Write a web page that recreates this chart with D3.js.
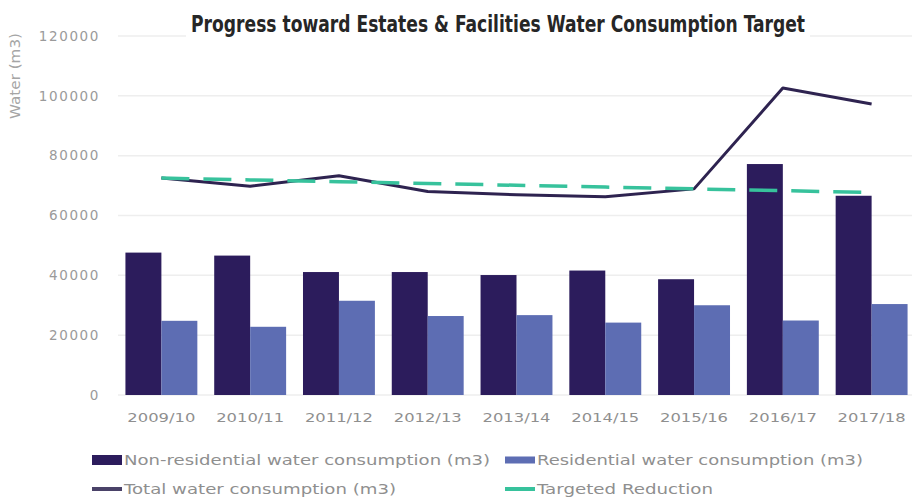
<!DOCTYPE html>
<html>
<head>
<meta charset="utf-8">
<script src="https://cdn.jsdelivr.net/npm/d3@7"></script>
<style>
  body { margin: 0; background: #fff; }
  svg { display: block; }
</style>
</head>
<body>
<svg width="912" height="499"></svg>
<script>
const years = ["2009/10", "2010/11", "2011/12", "2012/13", "2013/14", "2014/15", "2015/16", "2016/17", "2017/18"]
const nonResidential = [47600, 46600, 41100, 41100, 40100, 41600, 38700, 77200, 66600]
const residential = [24800, 22800, 31500, 26400, 26700, 24200, 30000, 24900, 30400]
const total = [72500, 69800, 73300, 68000, 66900, 66300, 68900, 102600, 97300]
const target = [72500, 71900, 71300, 70700, 70100, 69500, 68900, 68300, 67700]
const yTicks = [0, 20000, 40000, 60000, 80000, 100000, 120000]

const svg = d3.select("svg")
const font = "'DejaVu Sans', sans-serif"

const x = d3.scaleBand()
  .domain(years)
  .range([117, 916])
  .paddingInner(0.19)
  .paddingOuter(0.095)

const x1 = d3.scaleBand()
  .domain(["non", "res"])
  .range([0, x.bandwidth()])

const y = d3.scaleLinear()
  .domain([0, 120000])
  .range([395, 36])

// gridlines
svg.append("g").selectAll("line").data(yTicks).join("line")
  .attr("x1", 118).attr("x2", 912)
  .attr("y1", d => y(d)).attr("y2", d => y(d))
  .attr("stroke", "#eeeeee").attr("stroke-width", 1.5)

// y tick labels
svg.append("g").selectAll("text").data(yTicks).join("text")
  .attr("x", 100).attr("y", d => y(d)).attr("dy", "0.35em")
  .attr("text-anchor", "end")
  .attr("font-family", font).attr("font-size", 13.5).attr("letter-spacing", 1.6)
  .attr("fill", "#9a9a9a")
  .text(d => d)

svg.append("text")
  .attr("transform", "translate(20,76) rotate(-90)")
  .attr("text-anchor", "middle")
  .attr("font-family", font).attr("font-size", 13.5)
  .attr("textLength", 86).attr("lengthAdjust", "spacingAndGlyphs")
  .attr("fill", "#a5a5a5")
  .text("Water (m3)")

// bars
const groups = svg.append("g").selectAll("g").data(years).join("g")
  .attr("transform", d => `translate(${x(d)},0)`)

groups.append("rect")
  .attr("x", x1("non")).attr("width", x1.bandwidth())
  .attr("y", (d, i) => y(nonResidential[i]))
  .attr("height", (d, i) => y(0) - y(nonResidential[i]))
  .attr("fill", "#2c1c5c")

groups.append("rect")
  .attr("x", x1("res")).attr("width", x1.bandwidth())
  .attr("y", (d, i) => y(residential[i]))
  .attr("height", (d, i) => y(0) - y(residential[i]))
  .attr("fill", "#5d6db3")

// x tick labels
svg.append("g").selectAll("text").data(years).join("text")
  .attr("x", d => x(d) + x.bandwidth() / 2).attr("y", 417).attr("dy", "0.35em")
  .attr("text-anchor", "middle")
  .attr("font-family", font).attr("font-size", 13)
  .attr("textLength", 68).attr("lengthAdjust", "spacingAndGlyphs")
  .attr("fill", "#8f8f8f")
  .text(d => d)

// lines
const cx = d => x(d) + x.bandwidth() / 2

const line = d3.line()
  .x((d, i) => cx(years[i]))
  .y(d => y(d))

svg.append("path").datum(total)
  .attr("d", line)
  .attr("fill", "none").attr("stroke", "#2e2350").attr("stroke-width", 3)
  .attr("stroke-linejoin", "round")

svg.append("path").datum(target)
  .attr("d", line)
  .attr("fill", "none").attr("stroke", "#37c29c").attr("stroke-width", 3.5)
  .attr("stroke-dasharray", "28,14")

// title, on a white box that hides the top gridline behind it
svg.append("rect")
  .attr("x", 186).attr("y", 4).attr("width", 624).attr("height", 38)
  .attr("fill", "#fff")

const title = svg.append("text")
  .attr("text-anchor", "middle")
  .attr("font-family", "'Liberation Sans Narrow', 'DejaVu Sans Condensed', sans-serif")
  .attr("font-weight", "bold").attr("font-size", 23)
  .attr("fill", "#262626")
  .text("Progress toward Estates & Facilities Water Consumption Target")

// squeeze the title to the reference width with a transform
const titleW = title.node().getComputedTextLength()
title.attr("transform", `translate(498,32) scale(${614 / titleW},1)`)

// legend
const legend = [
  { label: "Non-residential water consumption (m3)", color: "#2c1c5c", h: 10, x: 92, y: 460, w: 366 },
  { label: "Residential water consumption (m3)", color: "#5d6db3", h: 7, x: 505, y: 460, w: 326 },
  { label: "Total water consumption (m3)", color: "#4a4268", h: 4, x: 92, y: 489, w: 272 },
  { label: "Targeted Reduction", color: "#37c29c", h: 4, x: 505, y: 489, w: 176 }
]

const items = svg.append("g").selectAll("g").data(legend).join("g")
  .attr("transform", d => `translate(${d.x},${d.y})`)

items.append("rect")
  .attr("x", 0).attr("y", d => -d.h / 2)
  .attr("width", 30).attr("height", d => d.h)
  .attr("fill", d => d.color)

items.append("text")
  .attr("x", 32).attr("dy", "0.35em")
  .attr("font-family", font).attr("font-size", 14)
  .attr("textLength", d => d.w).attr("lengthAdjust", "spacingAndGlyphs")
  .attr("fill", "#8f8f8f")
  .text(d => d.label)
</script>
</body>
</html>
